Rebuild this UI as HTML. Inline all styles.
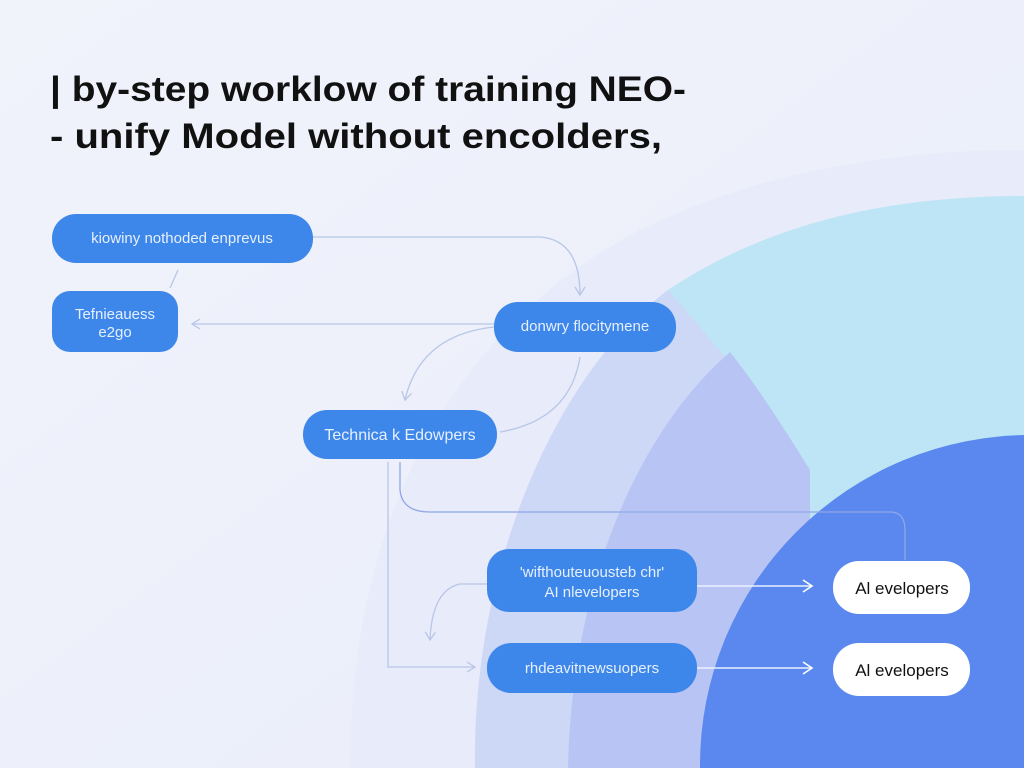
<!DOCTYPE html>
<html><head><meta charset="utf-8"><style>
html,body{margin:0;padding:0;width:1024px;height:768px;overflow:hidden;background:#eef1fb}
svg{display:block}
text{font-family:"Liberation Sans",sans-serif}
</style></head><body>
<svg width="1024" height="768" viewBox="0 0 1024 768">
<defs>
<linearGradient id="bg" x1="0" y1="0" x2="1" y2="1"><stop offset="0" stop-color="#f1f3fb"/><stop offset="1" stop-color="#e9edfa"/></linearGradient>
<marker id="ar" markerWidth="12" markerHeight="12" refX="10" refY="6" orient="auto" markerUnits="userSpaceOnUse"><path d="M2,1 L10,6 L2,11" fill="none" stroke="#b8c6e8" stroke-width="1.3"/></marker>
<marker id="aw" markerWidth="14" markerHeight="14" refX="12" refY="7" orient="auto" markerUnits="userSpaceOnUse"><path d="M3,1 L12,7 L3,13" fill="none" stroke="#ffffff" stroke-width="1.6"/></marker>
</defs>
<rect width="1024" height="768" fill="url(#bg)"/>
<path d="M350,768 C350,520 450,330 640,230 C760,170 900,150 1024,150 L1024,768 Z" fill="#e8ebf9"/>
<path d="M668,290 C770,222 890,196 1024,196 L1024,768 L810,768 L810,470 Z" fill="#bde5f6"/>
<path d="M475,768 C472,560 560,370 668,290 C720,350 770,410 810,470 L810,768 Z" fill="#cdd7f6"/>
<path d="M568,768 C572,580 640,430 730,352 C760,390 785,430 810,470 L810,768 Z" fill="#b8c5f4"/>
<circle cx="1030" cy="765" r="330" fill="#5b88ee"/>

<text x="50" y="101" font-size="35" font-weight="bold" fill="#111" textLength="636" lengthAdjust="spacingAndGlyphs">| by-step worklow of training NEO-</text>
<text x="50" y="148" font-size="35" font-weight="bold" fill="#111" textLength="612" lengthAdjust="spacingAndGlyphs">- unify Model without encolders,</text>

<g fill="none" stroke="#b8c6e8" stroke-width="1.3">
<path d="M313,237 L540,237 Q580,240 580,295" marker-end="url(#ar)"/>
<path d="M494,324 L192,324" marker-end="url(#ar)"/>
<path d="M178,270 L170,288"/>
<path d="M494,327 Q420,335 405,400" marker-end="url(#ar)"/>
<path d="M580,357 Q570,420 500,432"/>
<path d="M388,462 L388,667 L475,667" marker-end="url(#ar)"/>
<path d="M487,584 L460,584 Q432,590 430,640" marker-end="url(#ar)"/>
</g>
<path d="M400,462 L400,490 Q402,512 430,512 L890,512 Q905,512 905,530 L905,560" fill="none" stroke="#8ea6e6" stroke-width="1.3"/>
<g fill="none" stroke="#eaf0ff" stroke-width="1.6">
<path d="M697,586 L812,586" marker-end="url(#aw)"/>
<path d="M697,668 L812,668" marker-end="url(#aw)"/>
</g>

<g fill="#3d87ea">
<rect x="52" y="214" width="261" height="49" rx="24"/>
<rect x="52" y="291" width="126" height="61" rx="18"/>
<rect x="494" y="302" width="182" height="50" rx="24"/>
<rect x="303" y="410" width="194" height="49" rx="24"/>
<rect x="487" y="549" width="210" height="63" rx="22"/>
<rect x="487" y="643" width="210" height="50" rx="24"/>
</g>
<g fill="#ffffff">
<rect x="833" y="561" width="137" height="53" rx="26"/>
<rect x="833" y="643" width="137" height="53" rx="26"/>
</g>
<g fill="#e6efff" font-size="15" text-anchor="middle">
<text x="182" y="243">kiowiny  nothoded enprevus</text>
<text x="115" y="319">Tefnieauess</text>
<text x="115" y="337">e2go</text>
<text x="585" y="331">donwry  flocitymene</text>
<text x="400" y="440" font-size="16">Technica k Edowpers</text>
<text x="592" y="577">'wifthouteuousteb chr'</text>
<text x="592" y="597">AI  nlevelopers</text>
<text x="592" y="673">rhdeavitnewsuopers</text>
</g>
<g fill="#111" font-size="17" text-anchor="middle">
<text x="902" y="594">Al evelopers</text>
<text x="902" y="676">Al evelopers</text>
</g>
</svg>
</body></html>
